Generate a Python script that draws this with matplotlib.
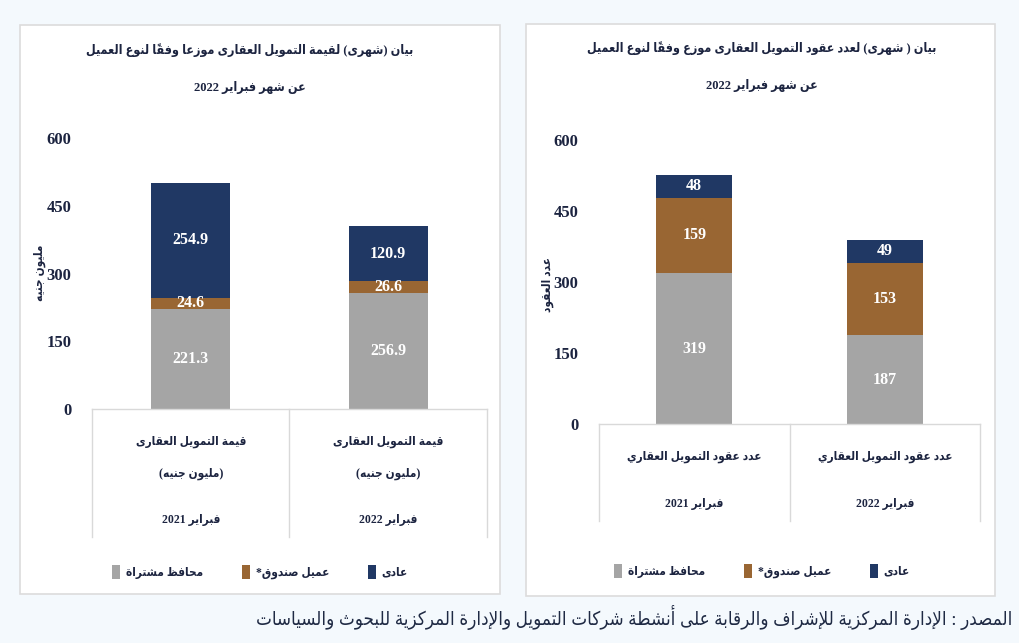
import re
import numpy as np
import matplotlib
matplotlib.use('Agg')
import matplotlib.pyplot as plt
from matplotlib.patches import Rectangle
from matplotlib.transforms import blended_transform_factory

# البيانات
years = ['فبراير 2021', 'فبراير 2022']
value_cat = ['قيمة التمويل العقارى', '(مليون جنيه)']
count_cat = ['عدد عقود التمويل العقاري']
series_names = ['محافظ مشتراة', 'عميل صندوق*', 'عادى']

value_portfolio = [221.3, 256.9]
value_fund = [24.6, 26.6]
value_regular = [254.9, 120.9]

count_portfolio = [319, 187]
count_fund = [159, 153]
count_regular = [48, 49]

yticks = [0, 150, 300, 450, 600]

title_value = ['بيان (شهرى) لقيمة التمويل العقارى موزعا وفقاً لنوع العميل', 'عن شهر فبراير 2022']
title_count = ['بيان ( شهرى) لعدد عقود التمويل العقارى موزع وفقاً لنوع العميل', 'عن شهر فبراير 2022']
ylabel_value = 'مليون جنيه'
ylabel_count = 'عدد العقود'
source = 'المصدر : الإدارة المركزية للإشراف والرقابة على أنشطة شركات التمويل والإدارة المركزية للبحوث والسياسات'

GRAY = '#a5a5a5'
BROWN = '#996633'
NAVY = '#203864'
TXT = '#1c2440'
LINE = '#d9d9d9'

# matplotlib لا يشكل الحروف العربية، فنحولها لأشكال العرض يدوياً
_AR = ('\u0621\u0622\u0623\u0624\u0625\u0626\u0627\u0628\u0629\u062a\u062b\u062c\u062d'
       '\u062e\u062f\u0630\u0631\u0632\u0633\u0634\u0635\u0636\u0637\u0638\u0639\u063a'
       '\u0641\u0642\u0643\u0644\u0645\u0646\u0647\u0648\u0649\u064a')
_N = [1, 2, 2, 2, 2, 4, 2, 4, 2, 4, 4, 4, 4, 4, 2, 2, 2, 2, 4, 4, 4, 4, 4, 4, 4, 4,
      4, 4, 4, 4, 4, 4, 4, 2, 2, 4]
FORMS = {}
_code = 0xFE80
for ch, n in zip(_AR, _N):
    FORMS[ch] = (_code, n)
    _code += n
LAM_ALEF = {'\u0622': 0xFEF5, '\u0623': 0xFEF7, '\u0625': 0xFEF9, '\u0627': 0xFEFB}


def ar(text):
    units = []
    i = 0
    while i < len(text):
        c = text[i]
        if c == '\u0644' and i + 1 < len(text) and text[i + 1] in LAM_ALEF:
            units.append([c, LAM_ALEF[text[i + 1]], 2, ''])
            i += 2
            continue
        if '\u064b' <= c <= '\u0652' and units:
            units[-1][3] += c
        elif c in FORMS:
            units.append([c, FORMS[c][0], FORMS[c][1], ''])
        else:
            units.append([c, None, 0, ''])
        i += 1
    out = []
    for k, (c, start, n, marks) in enumerate(units):
        if start is None:
            out.append(c + marks)
            continue
        prev_j = k > 0 and units[k - 1][2] == 4
        next_j = n == 4 and k + 1 < len(units) and units[k + 1][2] >= 2
        if n == 4:
            off = 3 if (prev_j and next_j) else 1 if prev_j else 2 if next_j else 0
        elif n == 2:
            off = 1 if prev_j else 0
        else:
            off = 0
        out.append(chr(start + off) + marks)
    s = ''.join(out[::-1])
    s = re.sub(r'[0-9]+', lambda m: m.group()[::-1], s)
    return s.translate(str.maketrans('()', ')('))


plt.rcParams['font.family'] = ['Liberation Serif', 'DejaVu Sans']
plt.rcParams['font.weight'] = 'bold'
plt.rcParams['font.stretch'] = 'condensed'

W, H = 1020, 643
fig = plt.figure(figsize=(W / 100, H / 100), dpi=100)
fig.patch.set_facecolor('#f4f9fd')


def px(x0, y0, x1, y1):
    return [x0 / W, 1 - y1 / H, (x1 - x0) / W, (y1 - y0) / H]


for x0, y0, x1, y1 in [(20, 25, 500, 594), (526, 24, 995, 596)]:
    fig.add_artist(Rectangle((x0 / W, 1 - y1 / H), (x1 - x0) / W, (y1 - y0) / H,
                             transform=fig.transFigure, facecolor='white',
                             edgecolor='#dcdcdc', lw=1.2, zorder=0))


def draw(ax, portfolio, fund, regular, cat_lines, line_y, table_bottom, fmt, legend_xy):
    x = np.arange(len(years))
    b1 = ax.bar(x, portfolio, 0.4, color=GRAY)
    b2 = ax.bar(x, fund, 0.4, bottom=portfolio, color=BROWN)
    b3 = ax.bar(x, regular, 0.4, bottom=np.add(portfolio, fund), color=NAVY)
    for b in (b1, b2, b3):
        ax.bar_label(b, fmt=fmt, label_type='center', color='white', fontsize=11.5)

    ax.set_xlim(-0.5, 1.5)
    ax.set_ylim(0, 600)
    ax.set_yticks(yticks)
    ax.set_xticks([])
    for sp in ax.spines.values():
        sp.set_visible(False)
    ax.tick_params(axis='y', length=0, pad=15, labelsize=12, labelcolor=TXT)

    # جدول الفئات أسفل المحور
    tr = ax.transAxes
    ax.plot([0, 1], [0, 0], transform=tr, color=LINE, lw=1, clip_on=False)
    for xx in (0, 0.5, 1):
        ax.plot([xx, xx], [0, table_bottom], transform=tr, color=LINE, lw=1, clip_on=False)
    trans = blended_transform_factory(ax.transData, ax.transAxes)
    for xi, yr in zip(x, years):
        for line, yy in zip(cat_lines + [yr], line_y):
            ax.text(xi, yy, ar(line), transform=trans, ha='center', va='center',
                    fontsize=8.5, color=TXT)

    ax.legend([b1, b2, b3], [ar(s) for s in series_names], loc='center',
              bbox_to_anchor=(legend_xy[0] / W, 1 - legend_xy[1] / H),
              bbox_transform=fig.transFigure, ncol=3, frameon=False,
              handlelength=0.65, handleheight=1.5, handletextpad=0.5,
              columnspacing=3.3, fontsize=8.5, labelcolor=TXT)


ax1 = fig.add_axes(px(92, 138, 487, 409))
draw(ax1, value_portfolio, value_fund, value_regular, value_cat,
     [-0.122, -0.240, -0.410], -0.472, '%.1f', (260, 572))

ax2 = fig.add_axes(px(599, 140, 980, 424))
draw(ax2, count_portfolio, count_fund, count_regular, count_cat,
     [-0.116, -0.282], -0.342, '%d', (762, 571))

for cx, ys, lines in [(250, (50, 88), title_value), (762, (48, 86), title_count)]:
    for yy, line in zip(ys, lines):
        fig.text(cx / W, 1 - yy / H, ar(line), ha='center', va='center',
                 fontsize=9, color=TXT)

fig.text(40 / W, 1 - 273 / H, ar(ylabel_value), rotation=90, ha='center', va='center',
         fontsize=8.5, color=TXT)
fig.text(548 / W, 1 - 285 / H, ar(ylabel_count), rotation=90, ha='center', va='center',
         fontsize=8.5, color=TXT)

fig.text(1012 / W, 1 - 617 / H, ar(source), ha='right', va='center',
         fontsize=13.4, fontweight='normal', color='#1f2a44')

fig.savefig('out.png', dpi=100, facecolor=fig.get_facecolor())
